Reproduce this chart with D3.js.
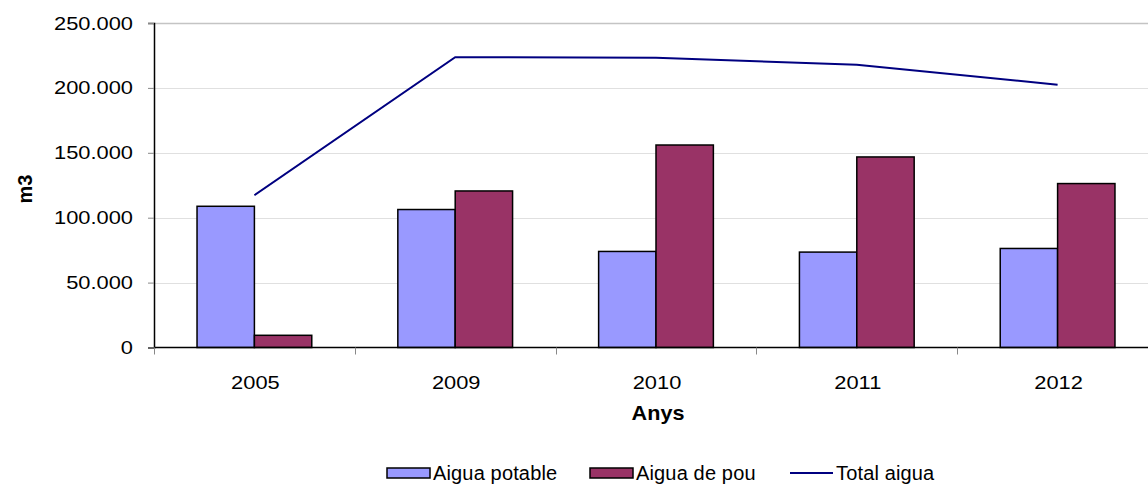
<!DOCTYPE html>
<html>

<head>
    <meta charset="UTF-8">
    <style>
        body { margin: 0; background: #fff; }
        svg { display: block; font-family: "Liberation Sans", Arial, sans-serif; }
    </style>
    <title>Aigua</title>
</head>

<body>
    <svg></svg>
    <script src="https://d3js.org/d3.v7.min.js"></script>

    <script>
        let width = 1148, height = 484;

        // data
        const years = ["2005", "2009", "2010", "2011", "2012"];
        const potable = [108800, 106300, 74000, 73500, 76300];
        const pou = [9400, 120600, 156000, 146800, 126300];
        const total = [117300, 223700, 223200, 217800, 202500];
        const yTicks = [0, 50000, 100000, 150000, 200000, 250000];
        const seriesNames = ["Aigua potable", "Aigua de pou", "Total aigua"];

        const colors = { potable: "#9999FF", pou: "#993366", total: "#000080" };

        let svg = d3.select("svg")
            .attr("width", width)
            .attr("height", height);

        const plotLeft = 154, plotTop = 23, plotBottom = 347.5, plotRight = 1158;
        // the axis labels in the original are drawn a bit wide
        const sx = 1.15;

        // scales
        const x = d3.scaleBand().domain(years).range([plotLeft, plotRight]);
        const inner = d3.scaleBand().domain(["potable", "pou"])
            .range([0, x.bandwidth()]).paddingOuter(0.75).paddingInner(0);
        const y = d3.scaleLinear().domain([0, 250000]).range([plotBottom, plotTop]);

        const fmt = d => d3.format(",")(d).replace(/,/g, ".");

        // gridlines
        svg.append("g")
            .selectAll("line")
            .data(yTicks.filter(d => d > 0))
            .enter()
            .append("line")
            .attr("x1", plotLeft).attr("x2", width)
            .attr("y1", d => Math.round(y(d)) + 0.5).attr("y2", d => Math.round(y(d)) + 0.5)
            .attr("stroke", d => d == 250000 ? "#c4c4c4" : "#e0e0e0")
            .attr("stroke-width", d => d == 250000 ? 1.5 : 1);

        // bars
        const groups = svg.append("g")
            .selectAll("g")
            .data(years)
            .enter()
            .append("g")
            .attr("transform", d => "translate(" + x(d) + ",0)");

        groups.selectAll("rect")
            .data((d, i) => [
                { key: "potable", v: potable[i] },
                { key: "pou", v: pou[i] }
            ])
            .enter()
            .append("rect")
            .attr("x", d => inner(d.key))
            .attr("width", inner.bandwidth())
            .attr("y", d => y(d.v))
            .attr("height", d => y(0) - y(d.v))
            .attr("fill", d => colors[d.key])
            .attr("stroke", "#000")
            .attr("stroke-width", 1.5);

        // total line
        const line = d3.line()
            .x((d, i) => x(years[i]) + x.bandwidth() / 2)
            .y(d => y(d));
        svg.append("path")
            .datum(total)
            .attr("d", line)
            .attr("fill", "none")
            .attr("stroke", colors.total)
            .attr("stroke-width", 2);

        // y axis
        const yAxis = svg.append("g")
            .attr("transform", "translate(" + plotLeft + ",0)")
            .call(d3.axisLeft(y).tickValues(yTicks).tickFormat(fmt).tickSize(6).tickPadding(15));
        yAxis.select(".domain").attr("stroke", "#000").attr("stroke-width", 1.5);
        yAxis.selectAll(".tick line").attr("stroke", "#888");
        yAxis.selectAll("text")
            .attr("x", -21 / sx)
            .attr("transform", "scale(" + sx + ",1)")
            .attr("font-size", 19)
            .attr("fill", "#000")
            .attr("font-family", "Liberation Sans, Arial, sans-serif");

        // x axis
        const xAxis = svg.append("g")
            .attr("transform", "translate(0," + plotBottom + ")");
        xAxis.append("line")
            .attr("x1", plotLeft).attr("x2", width)
            .attr("stroke", "#000").attr("stroke-width", 1.5);
        xAxis.selectAll(".sep")
            .data(years)
            .enter()
            .append("line")
            .attr("class", "sep")
            .attr("x1", d => Math.round(x(d)) + 0.5).attr("x2", d => Math.round(x(d)) + 0.5)
            .attr("y1", 0).attr("y2", 7)
            .attr("stroke", "#888");
        xAxis.selectAll("text")
            .data(years)
            .enter()
            .append("text")
            .attr("transform", d => "translate(" + (x(d) + x.bandwidth() / 2 + 1) + ",41) scale(" + sx + ",1)")
            .attr("text-anchor", "middle")
            .attr("font-size", 19)
            .text(d => d);

        // axis titles
        svg.append("text")
            .attr("transform", "translate(658,420) scale(1.08,1)")
            .attr("text-anchor", "middle")
            .attr("font-size", 20)
            .attr("font-weight", "bold")
            .text("Anys");
        svg.append("text")
            .attr("transform", "translate(32,189) rotate(-90)")
            .attr("text-anchor", "middle")
            .attr("font-size", 20)
            .attr("font-weight", "bold")
            .text("m3");

        // legend
        const legend = svg.append("g").attr("transform", "translate(0,473)");
        const lx = [387, 590, 790];
        legend.selectAll("rect")
            .data(["potable", "pou"])
            .enter()
            .append("rect")
            .attr("x", (d, i) => lx[i]).attr("y", -5)
            .attr("width", 43).attr("height", 10)
            .attr("fill", d => colors[d])
            .attr("stroke", "#000").attr("stroke-width", 1.5);
        legend.append("line")
            .attr("x1", lx[2]).attr("x2", lx[2] + 43)
            .attr("stroke", colors.total).attr("stroke-width", 2);
        legend.selectAll("text")
            .data(seriesNames)
            .enter()
            .append("text")
            .attr("x", (d, i) => lx[i] + 46)
            .attr("y", 7)
            .attr("font-size", 20)
            .attr("letter-spacing", 0.15)
            .text(d => d);
    </script>
</body>

</html>
